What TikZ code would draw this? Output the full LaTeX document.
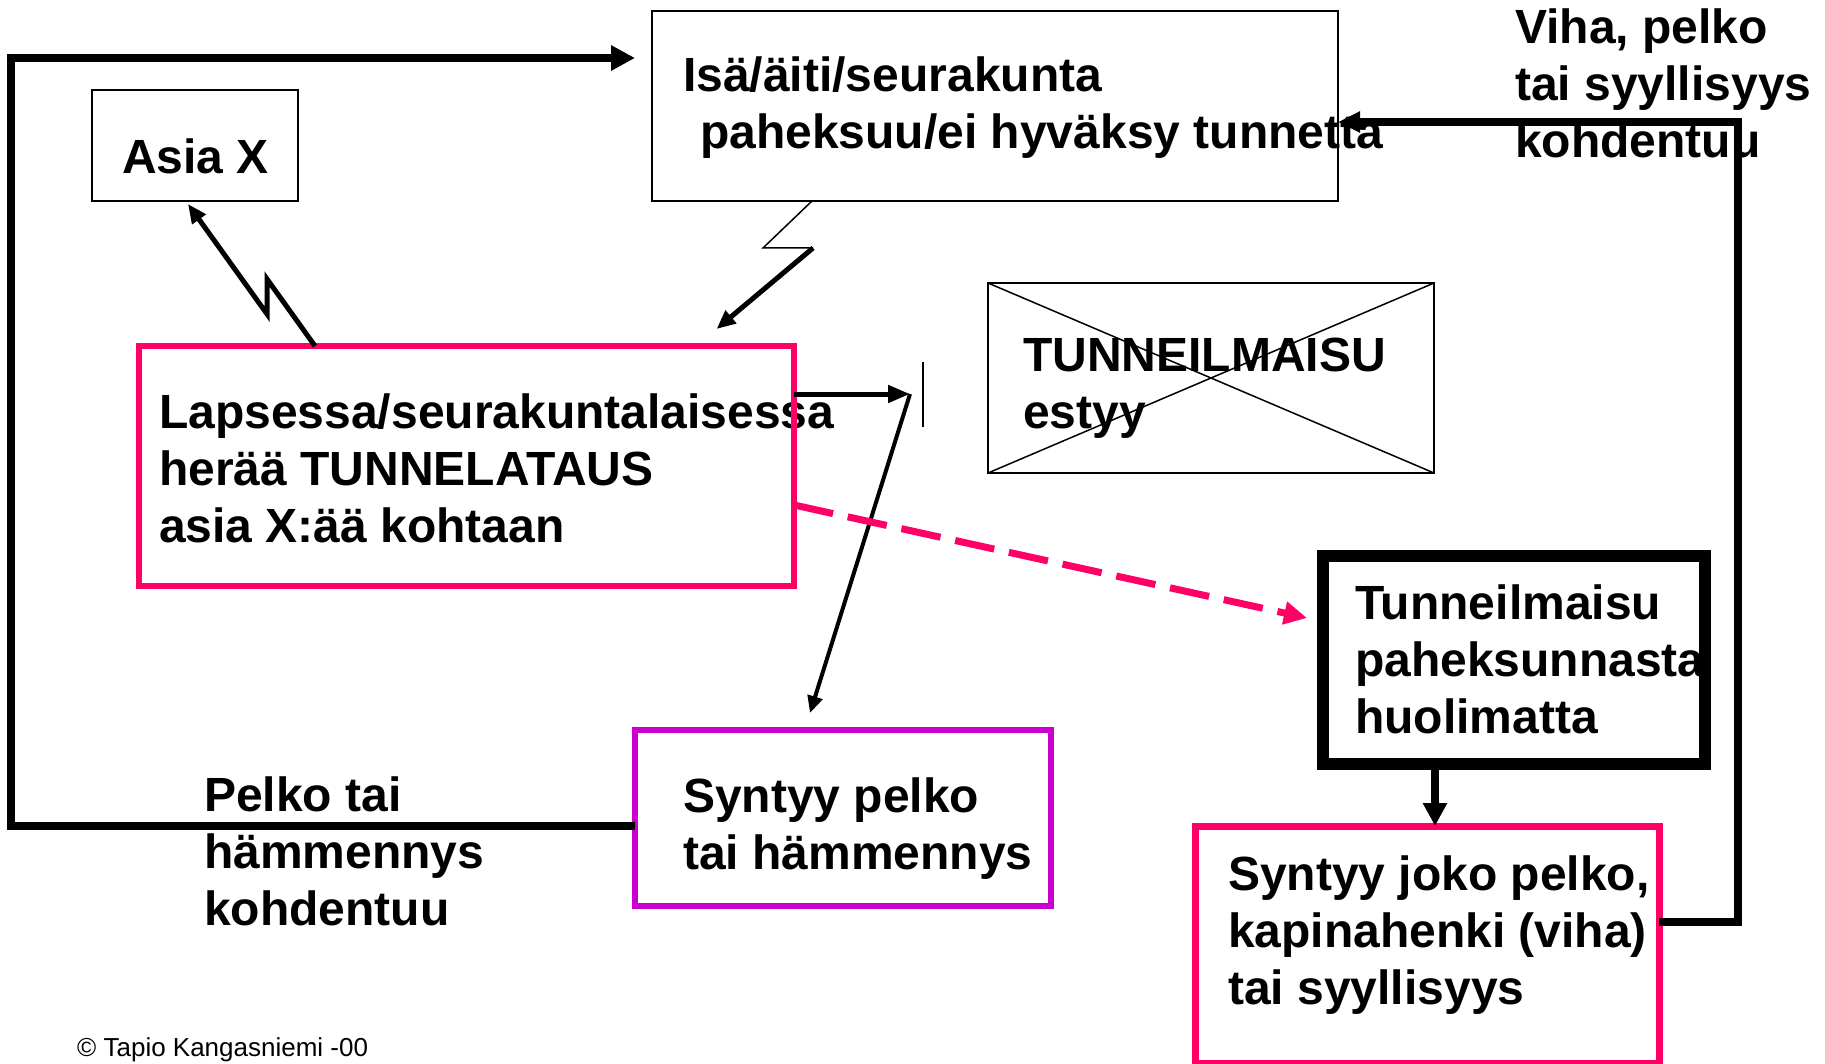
\documentclass[tikz,border=0pt]{standalone}
\usepackage{fontspec}
\setmainfont{Liberation Sans}
\usepackage{tikz}
\usetikzlibrary{arrows.meta,positioning,backgrounds}
\definecolor{pinkline}{RGB}{255, 0, 102}
\definecolor{magline}{RGB}{204, 0, 204}
\tikzstyle{box} = [draw, rectangle, inner sep=0pt, outer sep=0pt, line width=2pt]
\tikzstyle{txt} = [inner sep=0pt, align=left, font=\fontsize{48}{57}\selectfont\bfseries]
\tikzstyle{loopedge} = [draw, line width=8pt, -{Triangle[length=24pt,width=24pt]}]
\tikzstyle{backedge} = [draw, line width=8pt, -{Triangle[length=22pt,width=20pt]}]
\tikzstyle{downedge} = [draw, line width=8pt, -{Triangle[length=23pt,width=23pt]}]
\tikzstyle{childedge} = [draw, line width=5pt, -{Triangle[length=22pt,width=17pt]}]
\tikzstyle{dashedge} = [draw=pinkline, line width=7pt, dash pattern=on 40pt off 15pt, -{Triangle[length=23pt,width=22pt]}]
\tikzstyle{boltedge} = [draw, line width=5pt, -{Triangle[length=19pt,width=16pt]}]
\tikzstyle{thinbolt} = [draw, line width=1.5pt]
\tikzstyle{wall} = [draw, line width=2pt]

\begin{document}
\begin{tikzpicture}[x=1pt, y=-1pt]

\useasboundingbox (0,0) rectangle (1825,1064);

% boxes =============================

\node[box, minimum width=686pt, minimum height=190pt] (isa) at (995,106) {};
\node[box, minimum width=206pt, minimum height=111pt] (asia) at (195,145.5) {};
\node[box, draw=pinkline, line width=6pt, minimum width=655pt, minimum height=240pt] (lapsi) at (466.5,466) {};
\node[box, minimum width=446pt, minimum height=190pt] (estyy) at (1211,378) {};
\node[box, draw=magline, line width=6pt, minimum width=416pt, minimum height=176pt] (pelko) at (843,818) {};
\node[box, line width=12pt, minimum width=382pt, minimum height=208pt] (ilmaisu) at (1514,660) {};
\node[box, draw=pinkline, line width=7pt, minimum width=464pt, minimum height=237pt] (tulos) at (1427,944.5) {};

% crossed out box
\draw[line width=1.5pt] (estyy.north west) -- (estyy.south east);
\draw[line width=1.5pt] (estyy.south west) -- (estyy.north east);

% texts
\begin{scope}[on background layer]
\node[txt, below right=46pt and 31pt of isa.north west] (isatxt) {Isä/äiti/seurakunta\\\hspace*{17pt}paheksuu/ei hyväksy tunnetta};
\node[txt, below right=48.5pt and 30pt of asia.north west] (asiatxt) {Asia X};
\node[txt, below right=48pt and 20pt of lapsi.north west] (lapsitxt) {Lapsessa/seurakuntalaisessa\\herää TUNNELATAUS\\asia X:ää kohtaan};
\node[txt, below right=55pt and 35pt of estyy.north west] (estyytxt) {TUNNEILMAISU\\estyy};
\node[txt, below right=48pt and 48pt of pelko.north west] (pelkotxt) {Syntyy pelko\\tai hämmennys};
\node[txt, below right=29pt and 32pt of ilmaisu.north west] (ilmaisutxt) {Tunneilmaisu\\paheksunnasta\\huolimatta};
\node[txt, below right=30pt and 33pt of tulos.north west] (tulostxt) {Syntyy joko pelko,\\kapinahenki (viha)\\tai syyllisyys};

% free labels
\node[txt, anchor=north west] (vihatxt) at (1515,9) {Viha, pelko\\tai syyllisyys\\kohdentuu};
\node[txt, anchor=north west] (pelkolbl) at (204,777) {Pelko tai\\hämmennys\\kohdentuu};
\node[inner sep=0pt, anchor=base west, font=\fontsize{26}{30}\selectfont] (copy) at (77,1056) {© Tapio Kangasniemi -00};
\end{scope}

% feedback loops
\coordinate (lcorner) at (11,58);
\coordinate (isain) at (635,58);
\coordinate (rcorner) at (1738,122);
\path[loopedge] ([yshift=-8pt]pelko.west) -| (lcorner) -- (isain);
\path[backedge] ([yshift=22.5pt]tulos.east) -| (rcorner) -- ([yshift=-16pt]isa.east);
\path[downedge] ([xshift=-79pt]ilmaisu.south) -- ([xshift=8pt]tulos.north);

% edges out of lapsi
\coordinate (hit) at (910,394);
\path[childedge] ([yshift=72pt]lapsi.east) -- (hit);
\path[wall] ([xshift=13pt,yshift=32pt]hit) -- ++(0,65);
\path[childedge, line width=4pt, -{Triangle[length=17pt,width=15pt]}] (hit) -- ([xshift=-33pt,yshift=17pt]pelko.north);
\path[dashedge] ([yshift=-39pt]lapsi.east) -- ([xshift=-16pt,yshift=42pt]ilmaisu.west);

% bolts
\path[boltedge] ([xshift=-151.5pt]lapsi.north) -- ++(-48,-67) -- ++(0,35) -- ([xshift=-7pt,yshift=-3pt]asia.south);
\path[thinbolt] ([xshift=-183pt]isa.south) -- ++(-49,47) -- ++(50,0) coordinate (boltmid);
\path[boltedge] (boltmid) -- ([xshift=250pt,yshift=17pt]lapsi.north);

\end{tikzpicture}
\end{document}
